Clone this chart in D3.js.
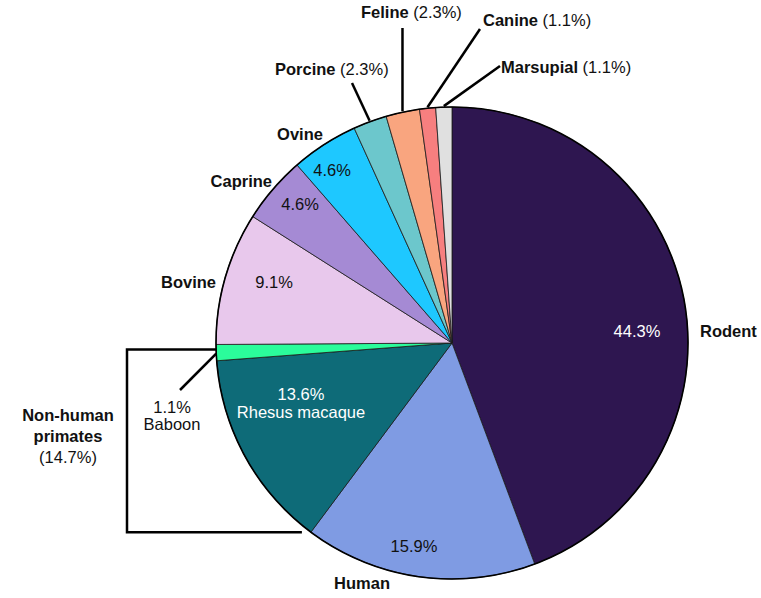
<!DOCTYPE html>
<html>
<head>
<meta charset="utf-8">
<script src="https://cdn.jsdelivr.net/npm/d3@7"></script>
<style>
  html, body { margin: 0; padding: 0; background: #fff; }
  svg { display: block; font-family: "Liberation Sans", Arial, sans-serif; }
  .name { font-weight: bold; font-size: 16.5px; fill: #111; }
  .pct { font-size: 16.5px; fill: #111; }
  .pct.light { fill: #fff; }
  .leader { stroke: #000; stroke-width: 2.5; fill: none; }
</style>
</head>
<body>
<svg id="chart" width="761" height="598"></svg>
<script>
const categories = ["Rodent", "Human", "Rhesus macaque", "Baboon", "Bovine", "Caprine",
  "Ovine", "Porcine", "Feline", "Canine", "Marsupial"];
const shares = [44.3, 15.9, 13.6, 1.1, 9.1, 4.6, 4.6, 2.3, 2.3, 1.1, 1.1];
const colours = ["#2e1650", "#7f9be3", "#0e6b78", "#2bfc9b", "#e8c8ec", "#a58ad4",
  "#1ec8ff", "#6cc7cc", "#f9a57f", "#f77f7f", "#e0e0e0"];
const groupLabel = ["Non-human", "primates", "(14.7%)"];

(() => {
  const svg = d3.select("#chart");
  const cx = 452, cy = 343, R = 236;

  const data = categories.map((c, i) => ({ name: c, value: shares[i], colour: colours[i] }));
  const pie = d3.pie().sort(null).value(d => d.value);
  const arcs = pie(data);
  const arc = d3.arc().innerRadius(0).outerRadius(R);

  const g = svg.append("g").attr("transform", `translate(${cx},${cy})`);

  g.selectAll("path.slice")
    .data(arcs)
    .join("path")
    .attr("class", "slice")
    .attr("d", arc)
    .attr("fill", d => d.data.colour)
    .attr("stroke", "#1a1a1a")
    .attr("stroke-width", 0.8);

  g.append("circle")
    .attr("r", R)
    .attr("fill", "none")
    .attr("stroke", "#000")
    .attr("stroke-width", 1.6);

  // point on rim at angle a (radians, clockwise from top)
  const rim = (a, r = R) => [Math.sin(a) * r, -Math.cos(a) * r];
  const byName = n => arcs.find(a => a.data.name === n);
  const fmt = v => v.toFixed(1) + "%";

  // label placement (offsets relative to pie centre)
  const layout = {
    "Rodent":   { name: [248, -6, "start"], pct: [185, -6, true] },
    "Human":    { name: [-90, 246, "middle"], pct: [-38, 209, false] },
    "Bovine":   { name: [-236, -55, "end"], pct: [-178, -55, false] },
    "Caprine":  { name: [-180, -156, "end"], pct: [-152, -133, false] },
    "Ovine":    { name: [-152, -203, "middle"], pct: [-120, -167, false] }
  };

  Object.entries(layout).forEach(([n, L]) => {
    const d = byName(n);
    g.append("text").attr("class", "name")
      .attr("x", L.name[0]).attr("y", L.name[1])
      .attr("text-anchor", L.name[2]).text(n);
    g.append("text").attr("class", "pct" + (L.pct[2] ? " light" : ""))
      .attr("x", L.pct[0]).attr("y", L.pct[1])
      .attr("text-anchor", "middle").text(fmt(d.data.value));
  });

  // Rhesus macaque (inside, white, two lines)
  const rh = byName("Rhesus macaque");
  g.append("text").attr("class", "pct light").attr("text-anchor", "middle")
    .attr("x", -151).attr("y", 57).text(fmt(rh.data.value));
  g.append("text").attr("class", "pct light").attr("text-anchor", "middle")
    .attr("x", -151).attr("y", 75).text(rh.data.name);

  // small slices with leader lines
  const callouts = [
    { n: "Porcine", lx: -177, ly: -268, from: [-100, -260] },
    { n: "Feline", lx: -91, ly: -325, from: [-45, -315] },
    { n: "Canine", lx: 31, ly: -317, from: [28, -314] },
    { n: "Marsupial", lx: 49, ly: -270, from: [48, -277] }
  ];
  callouts.forEach(c => {
    const d = byName(c.n);
    const mid = (d.startAngle + d.endAngle) / 2;
    const p = rim(mid, R + 1);
    const start = c.n === "Feline" ? [p[0], c.from[1]] : c.from;
    g.append("line").attr("class", "leader")
      .attr("x1", start[0]).attr("y1", start[1])
      .attr("x2", p[0]).attr("y2", p[1]);
    const t = g.append("text").attr("x", c.lx).attr("y", c.ly);
    t.append("tspan").attr("class", "name").text(c.n);
    t.append("tspan").attr("class", "pct").text(" (" + fmt(d.data.value) + ")");
  });

  // Baboon
  const bb = byName("Baboon");
  const bp = rim((bb.startAngle + bb.endAngle) / 2, R);
  g.append("line").attr("class", "leader")
    .attr("x1", -272).attr("y1", 47).attr("x2", bp[0]).attr("y2", bp[1] + 1);
  g.append("text").attr("class", "pct").attr("text-anchor", "middle")
    .attr("x", -280).attr("y", 70).text(fmt(bb.data.value));
  g.append("text").attr("class", "pct").attr("text-anchor", "middle")
    .attr("x", -280).attr("y", 87).text(bb.data.name);

  // bracket around non-human primates
  const upper = rim(bb.endAngle, R);
  const lower = rim(rh.startAngle, R);
  const bx = -325;
  g.append("path").attr("class", "leader").attr("stroke-width", 3)
    .attr("d", `M${upper[0]},${upper[1] + 5}H${bx}V${lower[1]}H${lower[0] - 9}`);

  const gl = g.append("text").attr("text-anchor", "middle");
  groupLabel.forEach((s, i) => {
    gl.append("tspan").attr("class", i < 2 ? "name" : "pct")
      .attr("x", -384).attr("y", 78 + i * 21).text(s);
  });
})();
</script>
</body>
</html>
